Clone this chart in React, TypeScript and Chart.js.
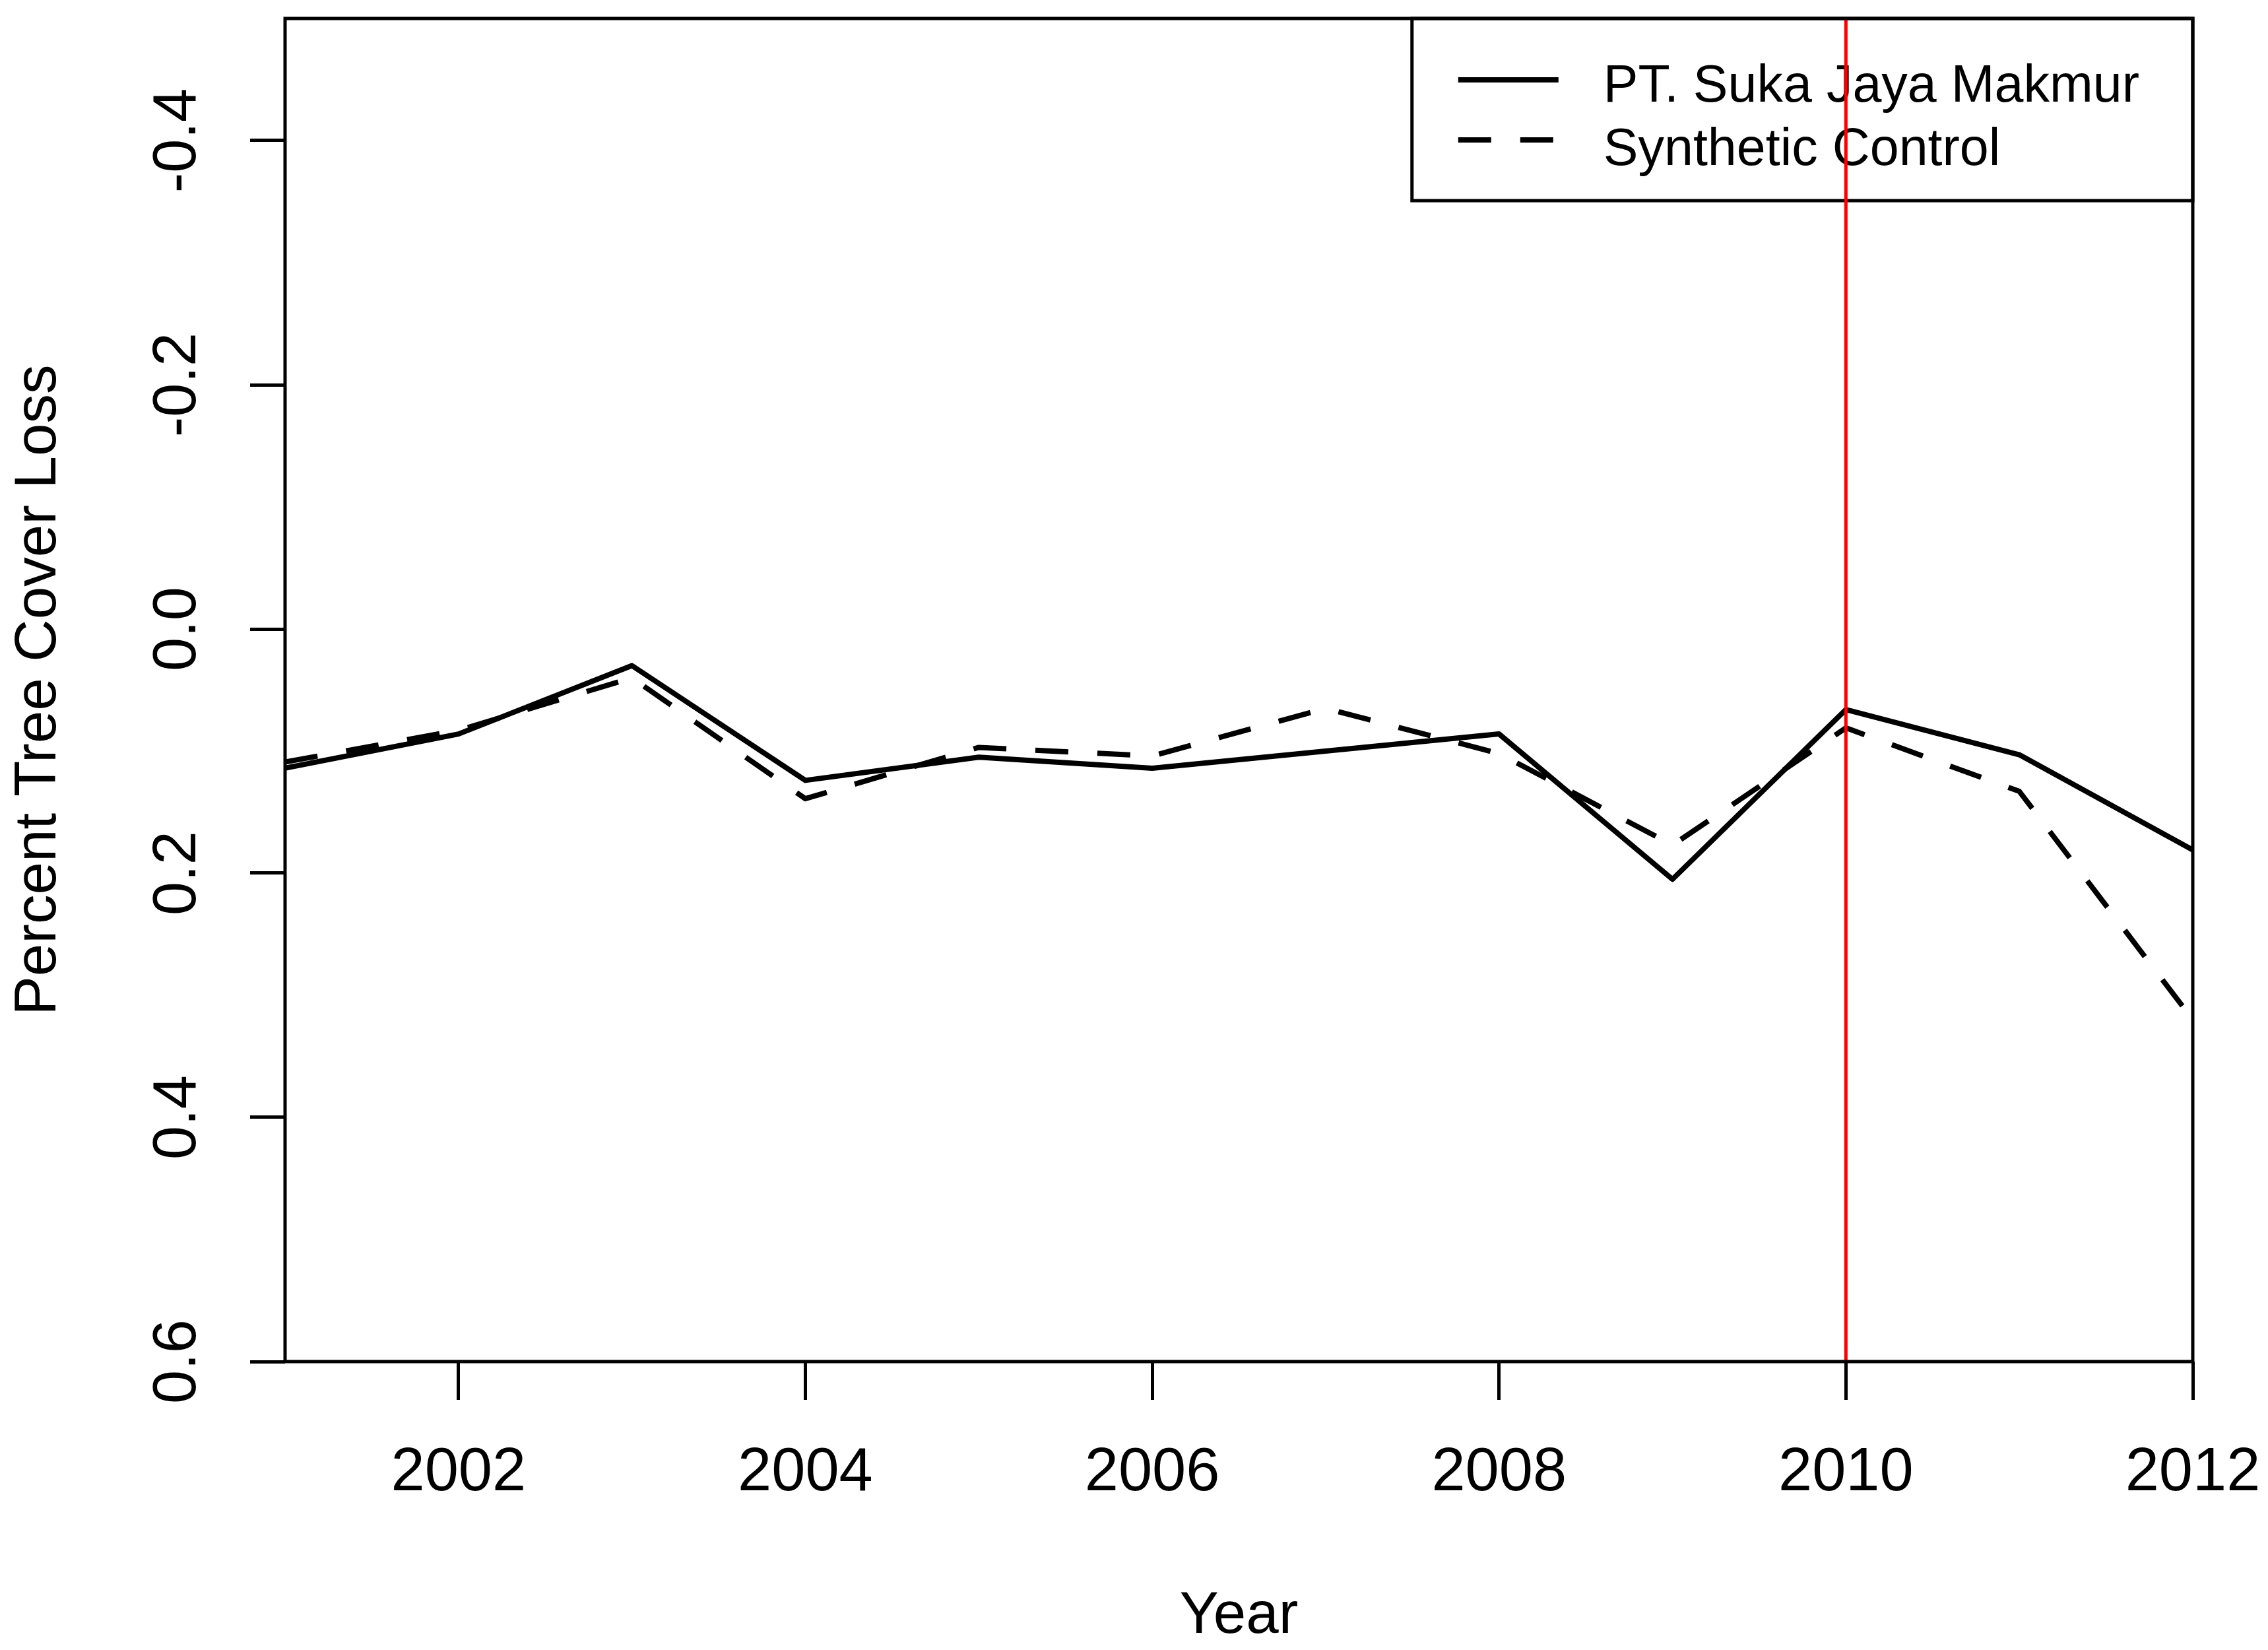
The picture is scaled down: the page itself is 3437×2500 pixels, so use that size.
import React, { useEffect, useRef } from "react";
import { Chart, registerables } from "chart.js";

Chart.register(...registerables);

// ---- data ----
const years = [2001, 2002, 2003, 2004, 2005, 2006, 2007, 2008, 2009, 2010, 2011, 2012];
const companySeries = [0.114, 0.086, 0.030, 0.124, 0.105, 0.114, 0.100, 0.086, 0.205, 0.066, 0.103, 0.181];
const syntheticSeries = [0.109, 0.083, 0.040, 0.139, 0.097, 0.104, 0.065, 0.102, 0.177, 0.081, 0.133, 0.320];
const seriesLabels = ["PT. Suka Jaya Makmur", "Synthetic Control"];
const xTickValues = [2002, 2004, 2006, 2008, 2010, 2012];
const xTickLabels = ["2002", "2004", "2006", "2008", "2010", "2012"];
const yTickValues = [-0.4, -0.2, 0, 0.2, 0.4, 0.6];
const yTickLabels = ["-0.4", "-0.2", "0.0", "0.2", "0.4", "0.6"];
const xRange = [2001, 2012];
const yRange = [-0.5, 0.6];
const interventionYear = 2010;
const xTitle = "Year";
const yTitle = "Percent Tree Cover Loss";

const FONT = '"Liberation Sans", Arial, sans-serif';

const overlayPlugin = {
  id: "overlay",
  afterDatasetsDraw(chart: any) {
    const ctx = chart.ctx;
    const area = chart.chartArea;
    ctx.save();

    // legend (inside plot, top-right)
    ctx.font = `79px ${FONT}`;
    const dsets = chart.data.datasets;
    const textW = Math.max(...dsets.map((d: any) => ctx.measureText(d.label).width));
    const right = area.right;
    const top = area.top;
    const textLeft = right - 81 - textW;
    const sampleRight = textLeft - 68;
    const sampleLeft = sampleRight - 152;
    const left = sampleLeft - 70;
    const bottom = top + 276;
    ctx.strokeStyle = "#000";
    ctx.lineWidth = 5;
    ctx.setLineDash([]);
    ctx.strokeRect(left, top, right - left, bottom - top);
    dsets.forEach((d: any, i: number) => {
      const ly = top + 93 + i * 91;
      ctx.beginPath();
      ctx.setLineDash(d.borderDash || []);
      ctx.lineWidth = d.borderWidth;
      ctx.strokeStyle = d.borderColor;
      ctx.lineCap = "butt";
      ctx.moveTo(sampleLeft, ly);
      ctx.lineTo(sampleRight, ly);
      ctx.stroke();
      ctx.setLineDash([]);
      ctx.fillStyle = "#000";
      ctx.textAlign = "left";
      ctx.textBaseline = "alphabetic";
      ctx.fillText(d.label, textLeft, top + 126 + i * 96);
    });

    // intervention line
    const xPix = chart.scales.x.getPixelForValue(interventionYear);
    ctx.beginPath();
    ctx.strokeStyle = "#ff0000";
    ctx.lineWidth = 5;
    ctx.moveTo(xPix, area.top);
    ctx.lineTo(xPix, area.bottom);
    ctx.stroke();

    // plot frame
    ctx.strokeStyle = "#000";
    ctx.lineWidth = 5;
    ctx.strokeRect(area.left, area.top, area.right - area.left, area.bottom - area.top);
    ctx.restore();
  },
};

export default function App() {
  const ref = useRef<HTMLCanvasElement | null>(null);

  useEffect(() => {
    if (!ref.current) return;
    const chart = new Chart(ref.current, {
      type: "line",
      data: {
        datasets: [
          {
            label: seriesLabels[0],
            data: years.map((yr, i) => ({ x: yr, y: companySeries[i] })),
            borderColor: "#000000",
            backgroundColor: "#000000",
            borderWidth: 8,
            pointRadius: 0,
            tension: 0,
            fill: false,
            borderJoinStyle: "round",
          },
          {
            label: seriesLabels[1],
            data: years.map((yr, i) => ({ x: yr, y: syntheticSeries[i] })),
            borderColor: "#000000",
            backgroundColor: "#000000",
            borderWidth: 8,
            borderDash: [50, 44],
            pointRadius: 0,
            tension: 0,
            fill: false,
            borderJoinStyle: "round",
          },
        ],
      },
      options: {
        animation: false,
        responsive: false,
        devicePixelRatio: 1,
        layout: { padding: { top: 28, right: 114, bottom: 0, left: 0 } },
        plugins: {
          legend: { display: false },
          tooltip: { enabled: false },
        },
        scales: {
          x: {
            type: "linear",
            min: xRange[0],
            max: xRange[1],
            afterBuildTicks: (s: any) => {
              s.ticks = xTickValues.map((v) => ({ value: v }));
            },
            afterFit: (s: any) => {
              s.height = 437;
              s.paddingLeft = 0;
              s.paddingRight = 0;
            },
            grid: {
              drawOnChartArea: false,
              drawTicks: true,
              tickLength: 58,
              tickWidth: 5,
              lineWidth: 5,
              color: "#000",
            },
            border: { display: false },
            ticks: {
              autoSkip: false,
              minRotation: 0,
              maxRotation: 0,
              padding: 56,
              color: "#000",
              font: { family: FONT, size: 92 },
              callback: (_v: any, i: number) => xTickLabels[i],
            },
            title: {
              display: true,
              text: xTitle,
              color: "#000",
              font: { family: FONT, size: 89, lineHeight: 1 },
              padding: { top: 0, bottom: 6 },
            },
          },
          y: {
            type: "linear",
            reverse: true,
            min: yRange[0],
            max: yRange[1],
            afterBuildTicks: (s: any) => {
              s.ticks = yTickValues.map((v) => ({ value: v }));
            },
            afterFit: (s: any) => {
              s.width = 432;
              s.paddingTop = 0;
              s.paddingBottom = 0;
            },
            grid: {
              drawOnChartArea: false,
              drawTicks: true,
              tickLength: 53,
              tickWidth: 5,
              lineWidth: 5,
              color: "#000",
            },
            border: { display: false },
            ticks: {
              autoSkip: false,
              minRotation: 90,
              maxRotation: 90,
              crossAlign: "center",
              padding: 29,
              color: "#000",
              font: { family: FONT, size: 92 },
              callback: (_v: any, i: number) => yTickLabels[i],
            },
            title: {
              display: true,
              text: yTitle,
              color: "#000",
              font: { family: FONT, size: 89, lineHeight: 1 },
              padding: { top: 15, bottom: 0 },
            },
          },
        },
      } as any,
      plugins: [overlayPlugin],
    });
    return () => chart.destroy();
  }, []);

  return (
    <div
      style={{
        position: "fixed",
        left: 0,
        top: 0,
        width: 3437,
        height: 2500,
        background: "#ffffff",
      }}
    >
      <canvas ref={ref} width={3437} height={2500} style={{ width: 3437, height: 2500, display: "block" }} />
    </div>
  );
}
